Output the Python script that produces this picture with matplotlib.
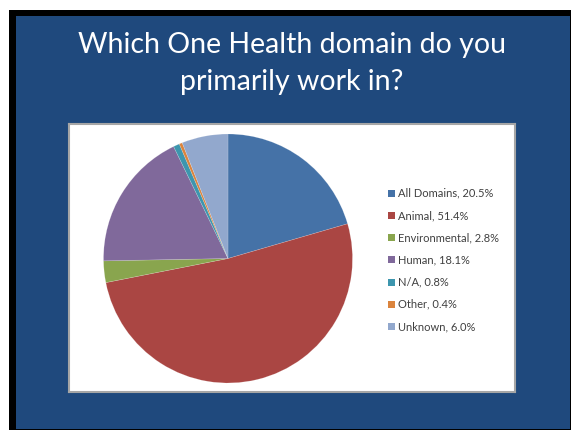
import matplotlib
matplotlib.use("Agg")
import matplotlib.pyplot as plt
from matplotlib.patches import Rectangle

categories = ["All Domains", "Animal", "Environmental", "Human", "N/A", "Other", "Unknown"]
values = [20.5, 51.4, 2.8, 18.1, 0.8, 0.4, 6.0]
colors = ["#4572A7", "#AA4643", "#89A54E", "#80699B", "#3D96AE", "#DB843D", "#92A8CD"]
title_lines = ["Which One Health domain do you", "primarily work in?"]

W, H = 571, 430
fig = plt.figure(figsize=(W / 100, H / 100), dpi=100)
fig.patch.set_facecolor("white")

def fx(px):
    return px / W

def fy(py):
    return 1 - py / H

# background frame in a full-figure axes (pixel coords, y down)
bg = fig.add_axes([0, 0, 1, 1], zorder=-10)
bg.set_xlim(0, W)
bg.set_ylim(H, 0)
bg.axis("off")
bg.add_patch(Rectangle((9, 10), W - 9, H - 10, facecolor="black", edgecolor="none"))
bg.add_patch(Rectangle((16, 16), 570 - 16, 429 - 16, facecolor="#1F497D", edgecolor="none"))

# title
for i, line in enumerate(title_lines):
    bg.text(292, 53 + 37 * i, line, ha="center", va="baseline",
            color="white", fontsize=20.5, family=["Lato", "DejaVu Sans"])

# chart box
box = fig.add_axes([fx(69), fy(392), fx(515 - 69), (392 - 124) / H], zorder=0)
box.set_facecolor("white")
box.set_xticks([])
box.set_yticks([])
for s in box.spines.values():
    s.set_color("#A6A6A6")
    s.set_linewidth(1.5)

# pie
cx, cy, r = 228, 258.5, 124.5
pax = fig.add_axes([fx(cx - r), fy(cy + r), fx(2 * r), 2 * r / H], zorder=1)
pax.pie(values, colors=colors, startangle=90, counterclock=False,
        wedgeprops=dict(linewidth=0.4, edgecolor="#FFFFFF40"))
pax.set_xlim(-1, 1)
pax.set_ylim(-1, 1)
pax.set_aspect("equal")
pax.axis("off")

# legend in an overlay axes with pixel coordinates
lax = fig.add_axes([0, 0, 1, 1], zorder=2)
lax.set_xlim(0, W)
lax.set_ylim(H, 0)
lax.axis("off")
lax.patch.set_alpha(0)
y0, dy = 193.3, 22.2
for i, (cat, val, col) in enumerate(zip(categories, values, colors)):
    y = y0 + dy * i
    lax.add_patch(Rectangle((388, y - 3.5), 7, 7, facecolor=col, edgecolor="none"))
    lax.text(398, y, f"{cat}, {val:.1f}%", ha="left", va="center",
             color="#404040", fontsize=8, family=["Lato", "DejaVu Sans"])

fig.savefig("out.png", dpi=100, facecolor=fig.get_facecolor())
